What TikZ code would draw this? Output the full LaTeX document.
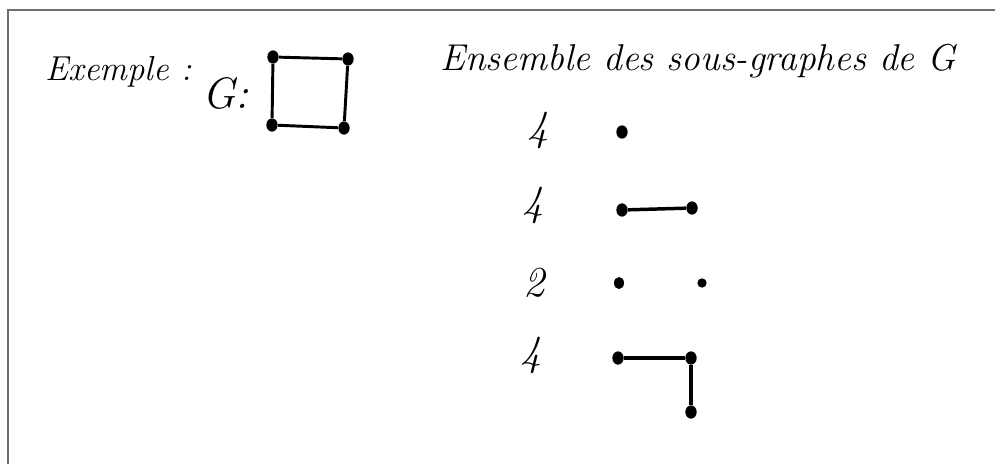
\documentclass[tikz,border=0pt]{standalone}
\usepackage{fontspec}

\tikzset{every picture/.style={line width=0.75pt}}
\tikzset{
  vertex/.style={ellipse,fill=black,inner sep=0pt,minimum width=8.5pt,minimum height=10pt},
  edge/.style={line width=2.6pt},
  hand/.style={font=\fontsize{26}{30}\selectfont\itshape,inner sep=0pt},
  count/.style={font=\fontsize{32}{36}\selectfont\itshape,inner sep=0pt}
}
\usetikzlibrary{shapes.geometric}

\begin{document}
\begin{tikzpicture}[x=0.75pt,y=0.75pt,yscale=-1,xscale=1]
\useasboundingbox (0,0) rectangle (995,464);

%Frame
\draw [color={rgb, 255:red, 110; green, 110; blue, 110 }, line width=1.2pt] (8,464) -- (8,10) -- (995,10) ;

%Text: left title
\node [hand, anchor=base west] (titleex) at (45,80) {Exemple :};
\node [hand, font=\fontsize{33}{38}\selectfont\itshape, anchor=base west] (gname) at (202,108) {G:};

%Graph G: square
\node [vertex] (gtl) at (273,57) {};
\node [vertex] (gtr) at (348,59) {};
\node [vertex] (gbl) at (272,125) {};
\node [vertex] (gbr) at (344,128) {};
\draw [line width=2.2pt] (gtl) -- (gtr) -- (gbr) -- (gbl) -- (gtl) ;

%Text: right title
\node [hand, font=\fontsize{28}{32}\selectfont\itshape, anchor=base west] (titlesub) at (440,70) {Ensemble des sous-graphes de G};

%Counts
\node [count] (cnta) at (538,130) {4};
\node [count] (cntb) at (533,205) {4};
\node [count] (cntc) at (534,283) {2};
\node [count] (cntd) at (531,355) {4};

%Row 1: single vertex
\node [vertex] (ra) at (622,132) {};

%Row 2: one edge
\node [vertex] (rba) at (622,210) {};
\node [vertex] (rbb) at (692,208) {};
\draw [edge] (rba) -- (rbb) ;

%Row 3: two isolated vertices
\node [vertex, minimum width=7.5pt, minimum height=9pt] (rca) at (619,283) {};
\node [vertex, minimum width=7pt, minimum height=7pt] (rcb) at (702,283) {};

%Row 4: path of two edges
\node [vertex] (rda) at (618,358) {};
\node [vertex] (rdb) at (691,358) {};
\node [vertex] (rdc) at (691,412) {};
\draw [edge] (rda) -- (rdb) -- (rdc) ;

\end{tikzpicture}
\end{document}
